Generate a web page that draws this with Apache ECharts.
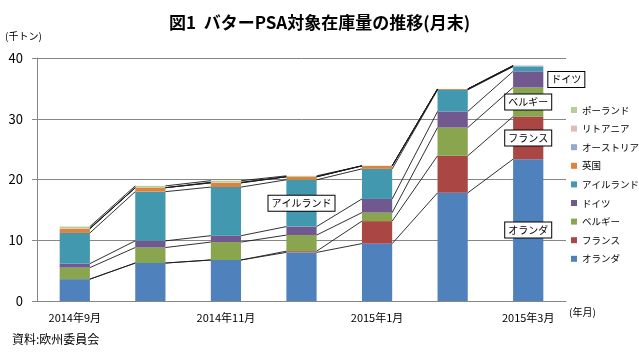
<!DOCTYPE html>
<html><head><meta charset="utf-8">
<script src="https://cdn.jsdelivr.net/npm/echarts@6/dist/echarts.min.js"></script>
<style>html,body{margin:0;padding:0;background:#fff}#c{width:639px;height:356px}</style>
</head><body><div id="c"></div>
<script>
const categories = ['2014年9月','2014年10月','2014年11月','2014年12月','2015年1月','2015年2月','2015年3月'];
const seriesNames = ['オランダ','フランス','ベルギー','ドイツ','アイルランド','英国','オーストリア','リトアニア','ポーランド'];
const netherlands = [3.6, 6.25, 6.75, 8.0, 9.45, 17.8, 23.35];
const france      = [0, 0, 0, 0.2, 3.7, 6.1, 7.0];
const belgium     = [1.9, 2.55, 2.95, 2.65, 1.4, 4.65, 4.8];
const germany     = [0.65, 1.1, 1.05, 1.4, 2.25, 2.65, 2.65];
const ireland     = [5.05, 8.1, 8.0, 7.7, 4.95, 3.55, 0.8];
const uk          = [0.7, 0.65, 0.7, 0.5, 0.5, 0.15, 0];
const austria     = [0, 0, 0, 0, 0, 0, 0.15];
const lithuania   = [0.1, 0, 0.1, 0, 0, 0, 0];
const poland      = [0.25, 0.3, 0.25, 0.15, 0, 0, 0];
const yTicks = [0, 10, 20, 30, 40];

const values = [netherlands, france, belgium, germany, ireland, uk, austria, lithuania, poland];
const colors = ['#4F81BD','#AA4643','#89A54E','#71588F','#4198AF','#DB843D','#93A9CF','#E6B9B8','#B9CD96'];
const FONT = '"Noto Sans CJK JP", "Noto Sans", sans-serif';
const BAR_RATIO = 0.4;

// which data points get a boxed series-name label
const labelAt = { 'オランダ': [[6,'inside']], 'フランス': [[6,'inside']], 'ベルギー': [[6,'inside']], 'ドイツ': [[6,'right']], 'アイルランド': [[3,'inside']] };

const boxLabel = {
  show: true, formatter: '{a}', color: '#000', fontSize: 10, fontFamily: FONT,
  backgroundColor: '#fff', borderColor: '#000', borderWidth: 1, padding: [3, 3, 2, 3]
};

const barSeries = seriesNames.map((name, s) => ({
  name, type: 'bar', stack: 'total', barWidth: (BAR_RATIO * 100) + '%',
  itemStyle: { color: colors[s] },
  data: values[s].map((v, i) => {
    const spec = (labelAt[name] || []).find(p => p[0] === i);
    if (!spec) return v;
    return { value: v, label: Object.assign({}, boxLabel, { position: spec[1], distance: 5 }) };
  })
}));

// cumulative tops for series lines
function cum(i, s) { let t = 0; for (let k = 0; k <= s; k++) t += values[k][i]; return t; }

const linesSeries = {
  type: 'custom', name: 'lines', z: 5, silent: true,
  data: categories.slice(0, categories.length - 1).map((c, i) => [i]),
  encode: { x: 0 },
  renderItem: function (params, api) {
    const i = api.value(0);
    const half = api.size([1, 0])[0] * BAR_RATIO / 2;
    const children = [];
    for (let s = 0; s < seriesNames.length; s++) {
      const p1 = api.coord([i, cum(i, s)]);
      const p2 = api.coord([i + 1, cum(i + 1, s)]);
      children.push({ type: 'line', shape: { x1: p1[0] + half, y1: p1[1], x2: p2[0] - half, y2: p2[1] },
        style: { stroke: '#1a1a1a', lineWidth: 0.9 } });
    }
    return { type: 'group', children };
  }
};

const chart = echarts.init(document.getElementById('c'));
chart.setOption({
  animation: false,
  backgroundColor: '#fff',
  textStyle: { fontFamily: FONT },
  title: { text: '図1  バターPSA対象在庫量の推移(月末)', left: 'center', top: 9,
    textStyle: { fontSize: 17, fontWeight: 'bold', color: '#000', fontFamily: FONT } },
  grid: { left: 37, right: 73, top: 58, bottom: 55, containLabel: false },
  legend: {
    orient: 'vertical', left: 566, top: 99, itemWidth: 6, itemHeight: 6, itemGap: 6.6,
    icon: 'rect', data: seriesNames.slice().reverse(),
    textStyle: { fontSize: 9.5, color: '#000', fontFamily: FONT, lineHeight: 12 }
  },
  xAxis: {
    type: 'category', data: categories,
    axisLine: { lineStyle: { color: '#868686' } },
    axisTick: { interval: 1, length: 5, lineStyle: { color: '#868686' } },
    axisLabel: { interval: 1, color: '#000', fontSize: 11, margin: 11, fontFamily: FONT }
  },
  yAxis: {
    type: 'value', min: yTicks[0], max: yTicks[yTicks.length - 1], interval: 10,
    axisLine: { show: true, lineStyle: { color: '#868686' } },
    axisTick: { show: true, length: 5, lineStyle: { color: '#868686' } },
    splitLine: { lineStyle: { color: '#868686' } },
    axisLabel: { color: '#000', fontSize: 13, margin: 14, fontFamily: FONT }
  },
  graphic: [
    { type: 'text', left: 5, top: 31, style: { text: '(千トン)', fill: '#000', font: '10px ' + FONT } },
    { type: 'text', left: 569, top: 307, style: { text: '(年月)', fill: '#000', font: '10px ' + FONT } },
    { type: 'text', left: 12, top: 333, style: { text: '資料:欧州委員会', fill: '#000', font: '12px ' + FONT } }
  ],
  series: barSeries.concat([linesSeries])
});
</script></body></html>
